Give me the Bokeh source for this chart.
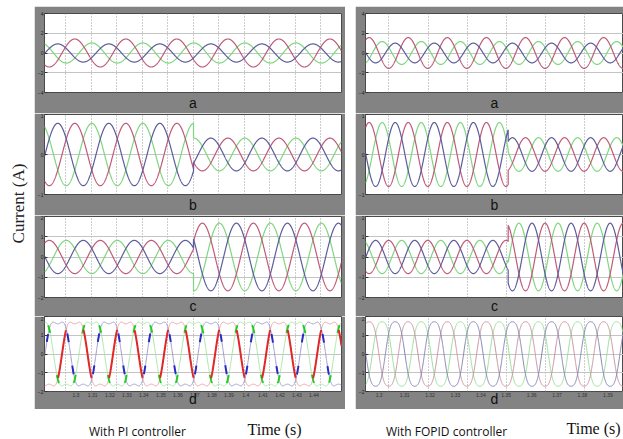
import numpy as np
from bokeh.plotting import figure
from bokeh.models import Range1d, Label, FixedTicker, Spacer, LinearAxis
from bokeh.layouts import row, column
from bokeh.embed import file_html
from bokeh.resources import INLINE

# ---------------- data ----------------
PERIOD_S = 0.02                      # one cycle of the supply current
PHASE_NAMES = ["red", "green", "blue"]

# --- column 1 : With PI controller ---
PI_T_END = 0.1164
PI_T_STEP = 0.0584
PI_PEAK_T = [0.01187, 0.01853, 0.00520]      # time of a positive peak (red, green, blue) panels a, b, d
PI_PEAK_T_C = [0.00187, 0.00853, 0.01520]    # panel c
PI_A_AMP = [1.42, 1.02, 0.92]
PI_B_AMP_BEFORE = [0.78, 0.78, 0.78]
PI_B_AMP_AFTER = [0.41, 0.41, 0.41]
PI_C_AMP_BEFORE = [0.82, 0.82, 0.82]
PI_C_AMP_AFTER = [1.67, 1.67, 1.67]
PI_D_AMP = [1.70, 1.70, 1.70]
PI_D_FLAT = 0.18
PI_GRID_T = [0.0083, 0.0183, 0.0283, 0.0383, 0.0483, 0.0583, 0.0683, 0.0783, 0.0883, 0.0983, 0.1083]
PI_D_TICKS = [0.0123, 0.0189, 0.0256, 0.0323, 0.0389, 0.0456, 0.0523, 0.0589, 0.0656, 0.0723,
              0.0789, 0.0856, 0.0923, 0.0989, 0.1056]
PI_D_TICK_LABELS = ["1.3", "1.31", "1.32", "1.33", "1.34", "1.35", "1.36", "1.37", "1.38", "1.39",
                    "1.4", "1.41", "1.42", "1.43", "1.44"]

# --- column 2 : With FOPID controller ---
FO_T_END = 0.132
FO_T_STEP = 0.073
FO_PEAK_T = [0.00185, 0.00852, 0.01518]
FO_PEAK_T_C = [0.01185, 0.01852, 0.00518]
FO_A_AMP = [1.56, 1.16, 1.00]
FO_B_AMP_BEFORE = [0.80, 0.80, 0.80]
FO_B_AMP_AFTER = [0.42, 0.42, 0.42]
FO_C_AMP_BEFORE = [0.82, 0.82, 0.82]
FO_C_AMP_AFTER = [1.67, 1.67, 1.67]
FO_D_AMP = [1.72, 1.72, 1.72]
FO_D_FLAT = 0.08
FO_GRID_T = [0.012, 0.032, 0.052, 0.072, 0.092, 0.112]
FO_D_TICKS = [0.007, 0.020, 0.033, 0.046, 0.059, 0.072, 0.085, 0.098, 0.111, 0.124]
FO_D_TICK_LABELS = ["1.3", "1.31", "1.32", "1.33", "1.34", "1.35", "1.36", "1.37", "1.38", "1.39"]

Y_TICKS_4 = [-4, -2, 0, 2, 4]
Y_TICKS_B = [-1, 0, 1]
Y_TICKS_2 = [-2, -1, 0, 1, 2]

PANEL_LETTERS = ["a", "b", "c", "d"]

# ---------------- styles ----------------
GRAY = "#838383"
LINE_COLORS = {"red": "#bf5a78", "green": "#7fd67f", "blue": "#5c5c9c"}
D_THIN = {"red": "#e6a2a8", "green": "#a6e6a6", "blue": "#9c9cc8"}
D_BOLD = {"red": "#e02828", "green": "#22cc22", "blue": "#2a2ac8"}
FO_D_COLORS = {"red": "#c8909c", "green": "#96dc96", "blue": "#8282b0"}
DRAW_ORDER = [1, 0, 2]


def sine(t, amp, tpk):
    return amp * np.cos(2 * np.pi * (t - tpk) / PERIOD_S)


def flat_wave(t, amp, tpk, k):
    th = 2 * np.pi * (t - tpk) / PERIOD_S
    g = np.linspace(0, np.pi, 2001)
    norm = np.max(np.cos(g) - k * np.cos(3 * g))
    return amp * (np.cos(th) - k * np.cos(3 * th)) / norm


def make_panel(width, height, left_b, right_b, top_b, bottom_b, x_end, y_ticks, grid_t):
    p = figure(width=width, height=height, title=None,
               x_range=Range1d(0, x_end), y_range=Range1d(y_ticks[0], y_ticks[-1]),
               x_axis_location=None, y_axis_location="left",
               output_backend="svg", toolbar_location=None,
               min_border_left=left_b, min_border_right=right_b,
               min_border_top=top_b, min_border_bottom=bottom_b,
               background_fill_color="white", border_fill_color=GRAY,
               outline_line_color="#4a4a4a")
    p.xgrid.ticker = FixedTicker(ticks=grid_t)
    p.xgrid.grid_line_color = "#9a9a9a"
    p.xgrid.grid_line_dash = "1 2"
    p.ygrid.ticker = FixedTicker(ticks=y_ticks)
    p.ygrid.grid_line_color = "#c4c4c4"
    ax = p.yaxis[0]
    ax.ticker = FixedTicker(ticks=y_ticks)
    ax.major_label_text_font_size = "5px"
    ax.major_label_text_color = "#222222"
    ax.major_label_standoff = 1
    ax.major_tick_in = 3
    ax.major_tick_out = 0
    ax.minor_tick_line_color = None
    ax.axis_line_color = None
    ax.major_tick_line_color = "#333333"
    return p


def add_letter_axis(p, letter, ticks, labels, standoff, font_size):
    ax = LinearAxis(ticker=FixedTicker(ticks=ticks),
                    major_label_overrides={tk: lb for tk, lb in zip(ticks, labels)})
    ax.major_label_text_font_size = "5px" if ticks else "0px"
    ax.major_label_text_color = "#333333"
    ax.major_label_standoff = 1 if ticks else 0
    ax.major_tick_in = 0
    ax.major_tick_out = 0
    ax.minor_tick_line_color = None
    ax.axis_line_color = None
    ax.axis_label = letter
    ax.axis_label_standoff = standoff
    ax.axis_label_text_font = "Liberation Sans"
    ax.axis_label_text_font_style = "normal"
    ax.axis_label_text_font_size = font_size
    ax.axis_label_text_color = "#111111"
    p.add_layout(ax, "below")
    return ax


def step_series(t_end, t_step, amp_before, amp_after, tpk):
    t1 = np.linspace(0, t_step, 900)
    t2 = np.linspace(t_step, t_end, 900)
    return np.concatenate([t1, t2]), np.concatenate([sine(t1, amp_before, tpk), sine(t2, amp_after, tpk)])


def build_column(width, left_b, right_b, t_end, t_step, peak_t, peak_t_c, a_amp, b_before, b_after,
                 c_before, c_after, d_amp, d_flat, grid_t, d_ticks, d_tick_labels, bold_d):
    t = np.linspace(0, t_end, 1800)
    # panel a
    pa = make_panel(width, 107, left_b, right_b, 7, 20, t_end, Y_TICKS_4, grid_t)
    for i in DRAW_ORDER:
        pa.line(t, sine(t, a_amp[i], peak_t[i]), line_color=LINE_COLORS[PHASE_NAMES[i]], line_width=1.2)
    add_letter_axis(pa, PANEL_LETTERS[0], [], [], 2, "14px")
    # panel b
    pb = make_panel(width, 102, left_b, right_b, 1, 20, t_end, Y_TICKS_B, grid_t)
    for i in DRAW_ORDER:
        tt, vv = step_series(t_end, t_step, b_before[i], b_after[i], peak_t[i])
        pb.line(tt, vv, line_color=LINE_COLORS[PHASE_NAMES[i]], line_width=1.2)
    add_letter_axis(pb, PANEL_LETTERS[1], [], [], 2, "14px")
    # panel c
    pc = make_panel(width, 101, left_b, right_b, 1, 19, t_end, Y_TICKS_2, grid_t)
    for i in DRAW_ORDER:
        tt, vv = step_series(t_end, t_step, c_before[i], c_after[i], peak_t_c[i])
        pc.line(tt, vv, line_color=LINE_COLORS[PHASE_NAMES[i]], line_width=1.2)
    add_letter_axis(pc, PANEL_LETTERS[2], [], [], 0, "14px")
    # panel d
    pd = make_panel(width, 93, left_b, right_b, 0, 11, t_end, Y_TICKS_2, grid_t)
    add_letter_axis(pd, PANEL_LETTERS[3], d_ticks, d_tick_labels, -9, "14px")
    for i in DRAW_ORDER:
        name = PHASE_NAMES[i]
        v = flat_wave(t, d_amp[i], peak_t[i], d_flat)
        pd.line(t, v, line_color=(D_THIN if bold_d else FO_D_COLORS)[name], line_width=1.0)
    if bold_d:
        masks = {
            "red": lambda v: np.abs(v) < 1.3,
            "blue": lambda v: (np.abs(v) > 0.6) & (np.abs(v) < 1.1),
            "green": lambda v: (np.abs(v) > 1.1) & (np.abs(v) < 1.55),
        }
        for i in DRAW_ORDER:
            name = PHASE_NAMES[i]
            v = flat_wave(t, d_amp[i], peak_t[i], d_flat)
            vb = np.where(masks[name](v), v, np.nan)
            pd.line(t, vb, line_color=D_BOLD[name], line_width=2.0)
    return column(Spacer(width=width, height=6), pa, pb, pc, pd)


left_col = build_column(311, 6, 4, PI_T_END, PI_T_STEP, PI_PEAK_T, PI_PEAK_T_C, PI_A_AMP,
                        PI_B_AMP_BEFORE, PI_B_AMP_AFTER, PI_C_AMP_BEFORE, PI_C_AMP_AFTER,
                        PI_D_AMP, PI_D_FLAT, PI_GRID_T, PI_D_TICKS, PI_D_TICK_LABELS, True)
right_col = build_column(268, 4, 0, FO_T_END, FO_T_STEP, FO_PEAK_T, FO_PEAK_T_C, FO_A_AMP,
                         FO_B_AMP_BEFORE, FO_B_AMP_AFTER, FO_C_AMP_BEFORE, FO_C_AMP_AFTER,
                         FO_D_AMP, FO_D_FLAT, FO_GRID_T, FO_D_TICKS, FO_D_TICK_LABELS, False)

# y label strip
ylab = figure(width=34, height=409, title=None, x_range=Range1d(0, 34), y_range=Range1d(0, 409),
              x_axis_location=None, y_axis_location=None, output_backend="svg",
              toolbar_location=None, min_border=0, outline_line_color=None)
ylab.grid.visible = False
ylab.add_layout(Label(x=18, y=206, text="Current (A)", angle=np.pi / 2, text_align="center",
                      text_baseline="middle", text_font="Liberation Serif",
                      text_font_size="17px", text_color="#222222"))

gap = Spacer(width=10, height=409)

# bottom captions
bottom = figure(width=623, height=30, title=None, x_range=Range1d(0, 623), y_range=Range1d(0, 30),
                x_axis_location=None, y_axis_location=None, output_backend="svg",
                toolbar_location=None, min_border=0, outline_line_color=None)
bottom.grid.visible = False
bottom.add_layout(Label(x=137, y=8, text="With PI controller", text_align="center",
                        text_baseline="alphabetic", text_font="Open Sans",
                        text_font_size="12px", text_color="#111111"))
bottom.add_layout(Label(x=247, y=10, text="Time (s)", text_align="left",
                        text_baseline="alphabetic", text_font="Liberation Serif",
                        text_font_size="16px", text_color="#111111"))
bottom.add_layout(Label(x=446, y=8, text="With FOPID controller", text_align="center",
                        text_baseline="alphabetic", text_font="Open Sans",
                        text_font_size="12px", text_color="#111111"))
bottom.add_layout(Label(x=566, y=11, text="Time (s)", text_align="left",
                        text_baseline="alphabetic", text_font="Liberation Serif",
                        text_font_size="16px", text_color="#111111"))

page = column(row(ylab, left_col, gap, right_col), bottom)

open("out.html", "w").write(file_html(page, INLINE))
